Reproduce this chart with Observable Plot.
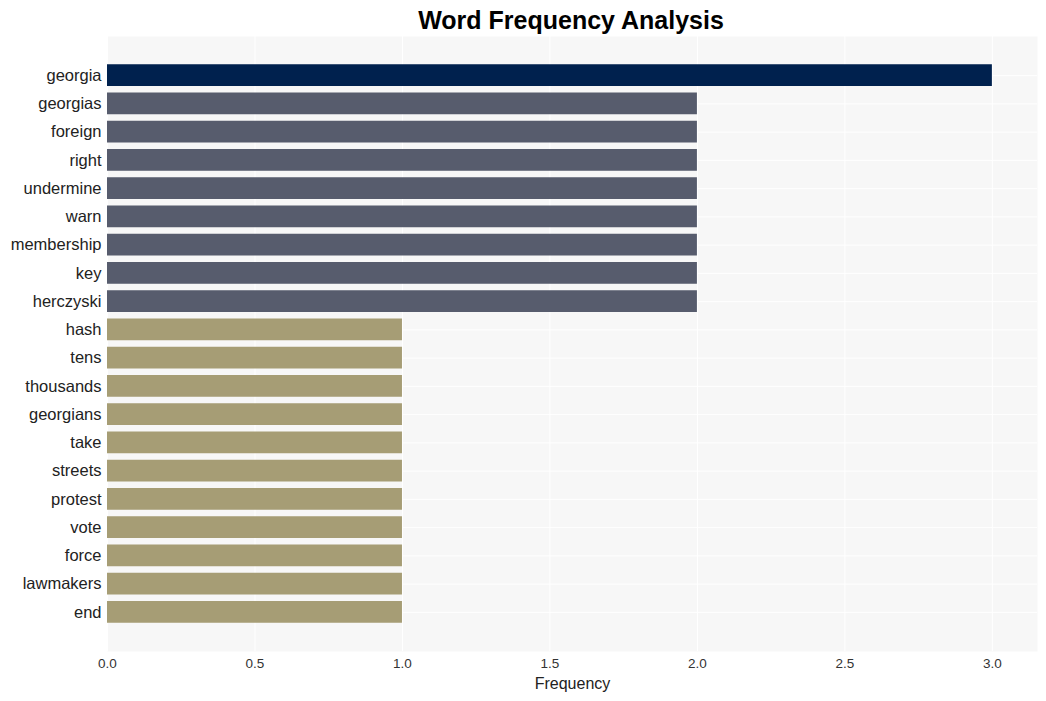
<!DOCTYPE html>
<html><head><meta charset="utf-8">
<script src="https://cdn.jsdelivr.net/npm/d3@7"></script>
<script src="https://cdn.jsdelivr.net/npm/@observablehq/plot@0.6"></script>
<style>
body{margin:0;background:#fff;font-family:"Liberation Sans",Arial,sans-serif;}
#title{height:36px;line-height:40px;text-align:center;font-weight:bold;font-size:25px;color:#000;padding-left:96px;}
</style></head>
<body>
<div id="title">Word Frequency Analysis</div>
<div id="chart"></div>
<script>
const words = ["georgia","georgias","foreign","right","undermine","warn","membership","key","herczyski","hash","tens","thousands","georgians","take","streets","protest","vote","force","lawmakers","end"];
const counts = [3,2,2,2,2,2,2,2,2,1,1,1,1,1,1,1,1,1,1,1];
const colorByCount = {3:"#00214e",2:"#575c6d",1:"#a69d75"};
const xTicks = [0,0.5,1,1.5,2,2.5,3];
const data = words.map((w,i)=>({word:w,count:counts[i]}));

const chart = Plot.plot({
  width:1046, height:665,
  marginLeft:107, marginRight:9, marginTop:0, marginBottom:50,
  style:{fontFamily:"'Liberation Sans',Arial,sans-serif",background:"#fff"},
  x:{domain:[0,3.153]},
  y:{domain:words, paddingInner:0.23, paddingOuter:1.0, round:false, label:null},
  marks:[
    Plot.frame({fill:"#f7f7f7", stroke:null}),
    Plot.gridX(xTicks,{stroke:"#fff", strokeOpacity:1, strokeWidth:1}),
    Plot.gridY(words,{stroke:"#fff", strokeOpacity:1, strokeWidth:1}),
    Plot.barX(data,{x:"count", y:"word", fill:d=>colorByCount[d.count]}),
    Plot.axisX(xTicks,{tickSize:0, tickPadding:7, fontSize:13.5, fill:"#333", tickFormat:d3.format(".1f"), label:"Frequency", labelAnchor:"center", labelArrow:"none", labelOffset:37}),
    Plot.axisY({tickSize:0, tickPadding:6, fontSize:16.5, fill:"#222", label:null})
  ]
});
chart.querySelectorAll('[aria-label="x-axis label"] text, [aria-label="x-axis label"]').forEach(t=>{t.setAttribute("font-size","16");t.setAttribute("fill","#222");});
document.getElementById("chart").appendChild(chart);
</script>
</body></html>
